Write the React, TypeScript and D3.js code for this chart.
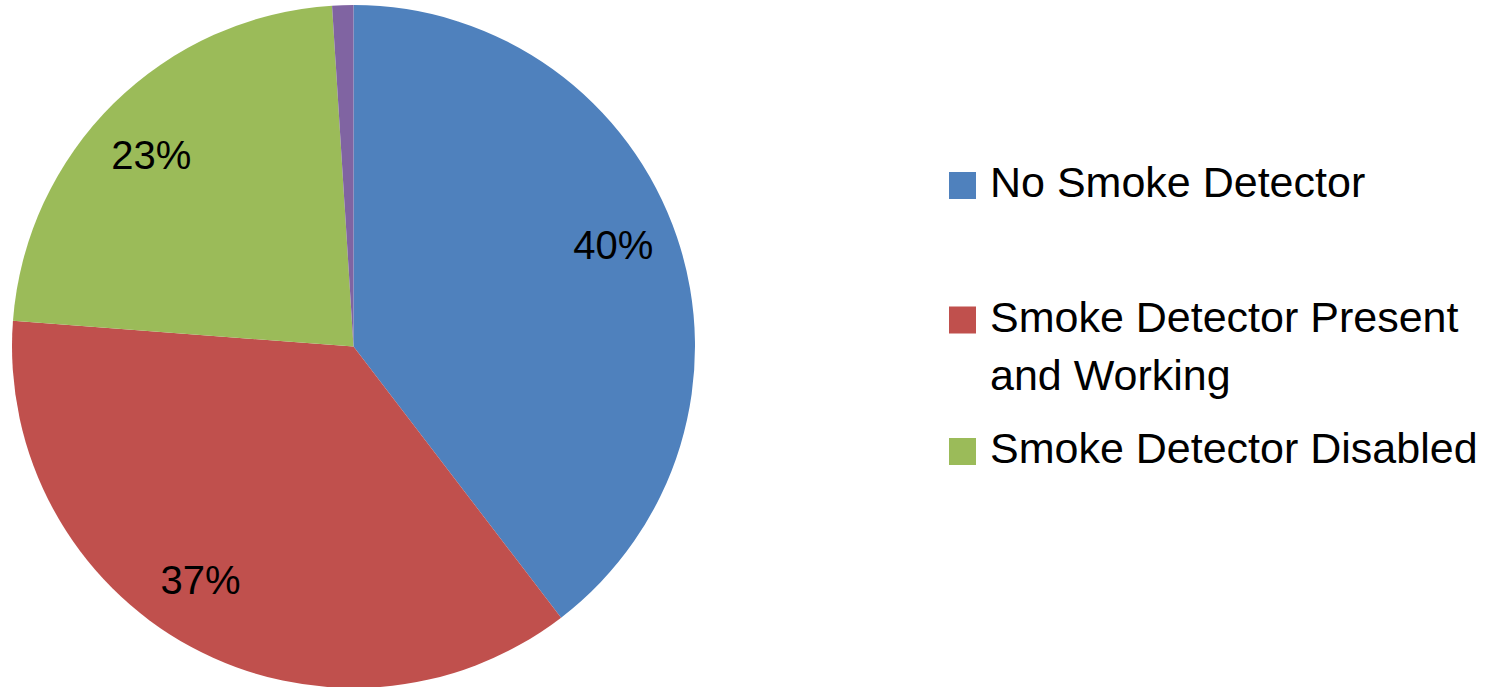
import React from 'react';
import * as d3 from 'd3';

// Slice values (percent)
const categories = ['No Smoke Detector', 'Smoke Detector Present and Working', 'Smoke Detector Disabled', 'Other'];
const values = [39.6, 36.6, 22.8, 1.0];
const sliceLabels = ['40%', '37%', '23%', ''];
const colors = ['#4F81BD', '#C0504D', '#9BBB59', '#8064A2'];
// legend shows only the first three, the second wraps onto two lines
const legendLines = [['No Smoke Detector'], ['Smoke Detector Present', 'and Working'], ['Smoke Detector Disabled']];

const W = 1492;
const H = 687;
const cx = 353.5;
const cy = 346.5;
const radius = 341.5;
const labelRadius = 279;
// Excel's best-fit label placement drifts a little from the slice middle (degrees)
const labelShift = [-2.7, 4.8, -1.8, 0];
const FONT = '"Liberation Sans", Arial, sans-serif';

const App: React.FC = () => {
  const pie = d3.pie<number>().sort(null).value((d) => d);
  const arcs = pie(values);
  const arc = d3.arc<d3.PieArcDatum<number>>().innerRadius(0).outerRadius(radius);

  // legend layout: baselines of first line for each entry
  const legendX = 949;
  const legendBaselines = [197, 331.5, 463];
  const lineGap = 58.5;

  return (
    <div style={{ position: 'absolute', left: 0, top: 0 }}>
      <svg width={W} height={H} style={{ display: 'block', background: '#fff' }}>
        <g transform={`translate(${cx},${cy})`}>
          {arcs.map((a, i) => (
            <path key={categories[i]} d={arc(a) || ''} fill={colors[i]} />
          ))}
          {arcs.map((a, i) => {
            if (!sliceLabels[i]) return null;
            const mid = (a.startAngle + a.endAngle) / 2 + (labelShift[i] * Math.PI) / 180;
            const x = labelRadius * Math.sin(mid);
            const y = -labelRadius * Math.cos(mid);
            return (
              <text
                key={`l${i}`}
                x={x}
                y={y}
                dy="0.36em"
                textAnchor="middle"
                fontFamily={FONT}
                fontSize={40}
                fill="#000"
              >
                {sliceLabels[i]}
              </text>
            );
          })}
        </g>
        <g>
          {legendLines.map((lines, i) => (
            <g key={`lg${i}`}>
              <rect x={legendX} y={legendBaselines[i] - 25} width={27} height={27} fill={colors[i]} />
              {lines.map((ln, j) => (
                <text
                  key={ln}
                  x={legendX + 41}
                  y={legendBaselines[i] + j * lineGap}
                  fontFamily={FONT}
                  fontSize={43}
                  fill="#000"
                >
                  {ln}
                </text>
              ))}
            </g>
          ))}
        </g>
      </svg>
    </div>
  );
};

export default App;
